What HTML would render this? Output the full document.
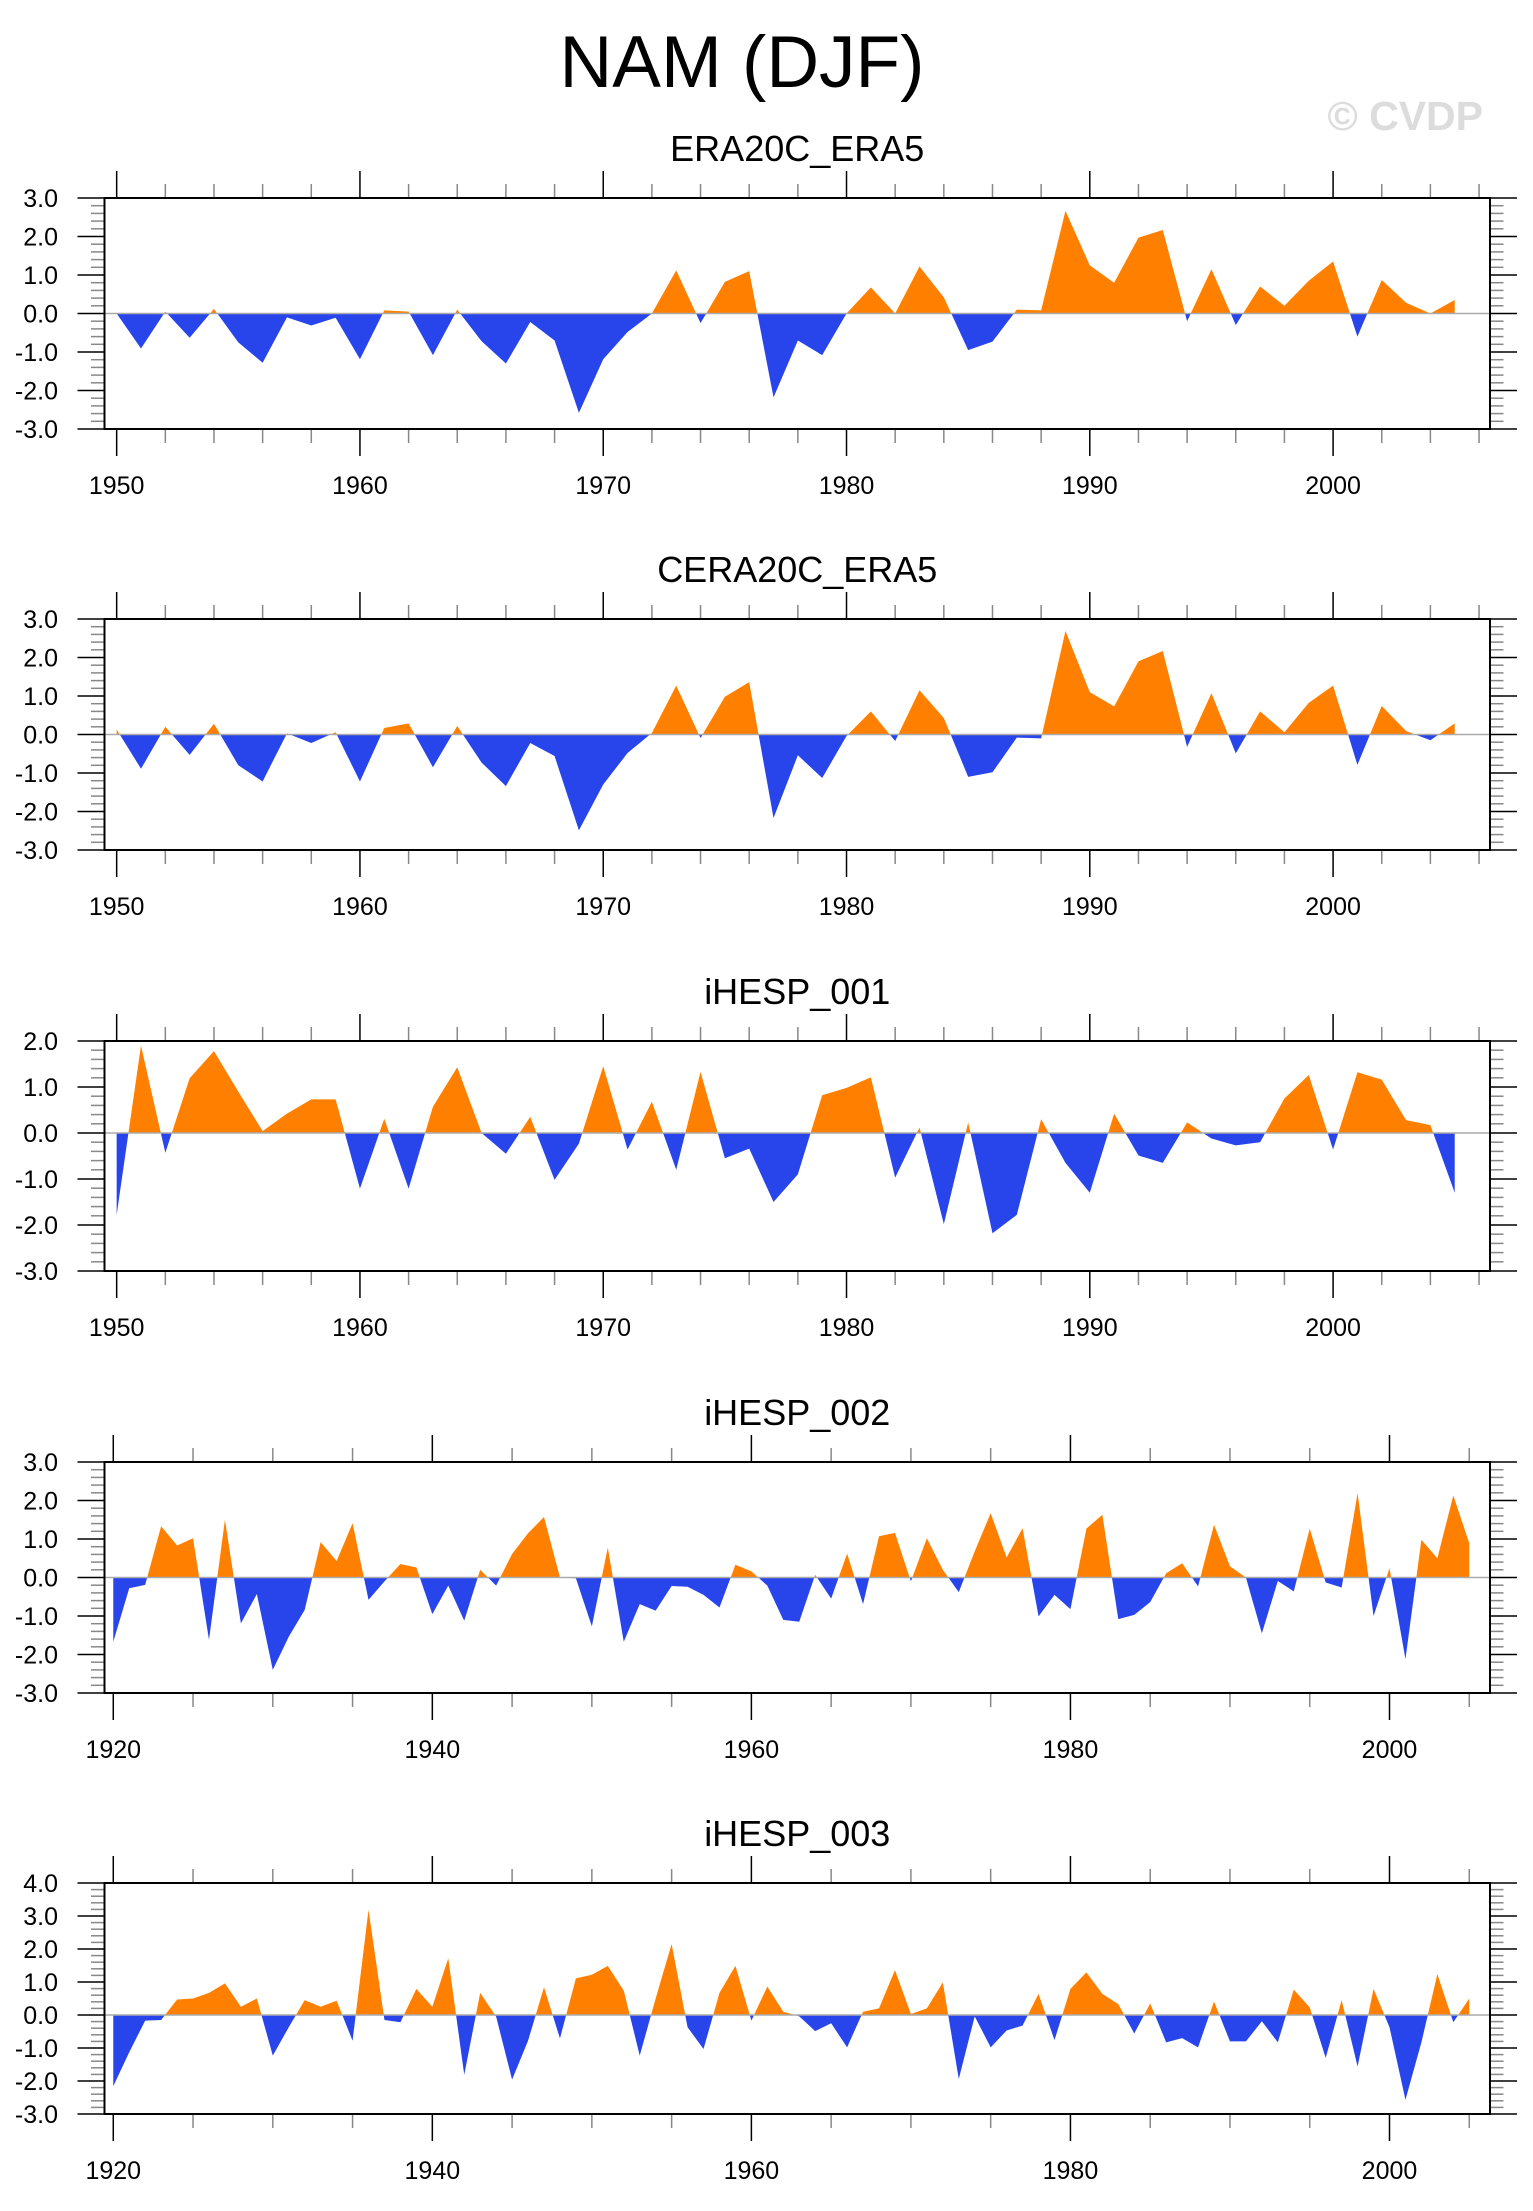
<!DOCTYPE html>
<html><head><meta charset="utf-8">
<style>
html,body{margin:0;padding:0;background:#fff;}
svg{display:block;font-family:"Liberation Sans",Arial,sans-serif;}
</style></head>
<body>
<svg id="chart" width="1533" height="2211" viewBox="0 0 1533 2211" xmlns="http://www.w3.org/2000/svg">
<text x="742" y="87" font-size="73" text-anchor="middle" fill="#000">NAM (DJF)</text>
<text x="1483" y="130" font-size="41" font-weight="bold" text-anchor="end" fill="#dcdcdc">© CVDP</text>
</svg>
<script>
// ---- data arrays ----
const yearsStart1 = 1950;
const yearsStart2 = 1920;
const era20cValues = [0.0,-0.91,0.05,-0.63,0.12,-0.75,-1.28,-0.1,-0.31,-0.11,-1.19,0.08,0.05,-1.08,0.1,-0.72,-1.3,-0.22,-0.7,-2.58,-1.19,-0.48,0.0,1.12,-0.25,0.82,1.1,-2.18,-0.7,-1.08,0.0,0.68,0.0,1.22,0.42,-0.95,-0.73,0.1,0.08,2.67,1.25,0.8,1.97,2.17,-0.2,1.15,-0.3,0.7,0.2,0.85,1.35,-0.6,0.87,0.28,0.0,0.35];
const cera20cValues = [0.13,-0.89,0.2,-0.53,0.28,-0.8,-1.22,0.03,-0.22,0.06,-1.22,0.17,0.29,-0.85,0.22,-0.73,-1.34,-0.22,-0.56,-2.49,-1.3,-0.48,0.04,1.27,-0.09,0.98,1.36,-2.17,-0.54,-1.13,-0.04,0.6,-0.17,1.15,0.43,-1.1,-0.98,-0.08,-0.1,2.69,1.1,0.73,1.9,2.17,-0.32,1.07,-0.49,0.6,0.06,0.82,1.27,-0.79,0.74,0.09,-0.15,0.29];
const ihesp001Values = [-1.78,1.9,-0.43,1.19,1.78,0.9,0.04,0.42,0.73,0.73,-1.21,0.31,-1.21,0.57,1.43,0.0,-0.45,0.35,-1.02,-0.23,1.45,-0.36,0.68,-0.8,1.33,-0.55,-0.34,-1.5,-0.9,0.82,0.98,1.21,-0.97,0.12,-1.98,0.23,-2.18,-1.78,0.3,-0.65,-1.3,0.42,-0.49,-0.65,0.23,-0.12,-0.27,-0.2,0.75,1.26,-0.36,1.32,1.16,0.28,0.17,-1.3];
const ihesp002Values = [-1.67,-0.28,-0.19,1.33,0.83,1.02,-1.62,1.5,-1.19,-0.43,-2.4,-1.54,-0.84,0.92,0.43,1.41,-0.58,-0.1,0.35,0.26,-0.95,-0.21,-1.12,0.2,-0.21,0.61,1.15,1.57,0.0,-0.02,-1.27,0.78,-1.67,-0.69,-0.86,-0.22,-0.24,-0.45,-0.78,0.33,0.16,-0.21,-1.1,-1.15,0.07,-0.55,0.62,-0.69,1.07,1.16,-0.1,1.02,0.2,-0.38,0.68,1.67,0.52,1.28,-1.01,-0.45,-0.82,1.27,1.63,-1.08,-0.97,-0.64,0.11,0.37,-0.23,1.37,0.29,0.0,-1.45,-0.09,-0.36,1.27,-0.13,-0.26,2.19,-1.0,0.24,-2.12,0.98,0.5,2.13,0.89];
const ihesp003Values = [-2.16,-1.13,-0.17,-0.15,0.47,0.5,0.67,0.96,0.25,0.5,-1.23,-0.37,0.45,0.25,0.43,-0.78,3.19,-0.15,-0.22,0.79,0.25,1.72,-1.81,0.67,-0.05,-1.96,-0.78,0.84,-0.71,1.11,1.22,1.49,0.74,-1.23,0.5,2.15,-0.37,-1.03,0.67,1.49,-0.17,0.86,0.1,-0.04,-0.49,-0.25,-0.98,0.1,0.2,1.36,0.03,0.2,0.99,-1.94,-0.04,-0.98,-0.47,-0.32,0.64,-0.76,0.79,1.29,0.64,0.33,-0.56,0.35,-0.83,-0.7,-0.98,0.41,-0.8,-0.8,-0.19,-0.83,0.77,0.23,-1.3,0.45,-1.56,0.79,-0.37,-2.57,-0.83,1.24,-0.22,0.5];
const panelTitles = ["ERA20C_ERA5","CERA20C_ERA5","iHESP_001","iHESP_002","iHESP_003"];
const yTickLabels3 = ["3.0","2.0","1.0","0.0","-1.0","-2.0","-3.0"];
const yTickLabels2 = ["2.0","1.0","0.0","-1.0","-2.0","-3.0"];
const yTickLabels4 = ["4.0","3.0","2.0","1.0","0.0","-1.0","-2.0","-3.0"];
const xTickLabelsA = ["1950","1960","1970","1980","1990","2000"];
const xTickLabelsB = ["1920","1940","1960","1980","2000"];

const NS = "http://www.w3.org/2000/svg";
const svg = document.getElementById('chart');
function mk(tag, attrs, parent){
  const e = document.createElementNS(NS, tag);
  for (const k in attrs) e.setAttribute(k, attrs[k]);
  (parent||svg).appendChild(e);
  return e;
}
const L = 104.5, R = 1490;
const panels = [
  {vals: era20cValues, start: yearsStart1, xmin: 1949.5, xmax: 2006.45, top: 198, bot: 429, ymax: 3, ymin: -3, ylabels: yTickLabels3, xlabels: xTickLabelsA, major: 10, minor: 2},
  {vals: cera20cValues, start: yearsStart1, xmin: 1949.5, xmax: 2006.45, top: 619, bot: 850, ymax: 3, ymin: -3, ylabels: yTickLabels3, xlabels: xTickLabelsA, major: 10, minor: 2},
  {vals: ihesp001Values, start: yearsStart1, xmin: 1949.5, xmax: 2006.45, top: 1041, bot: 1271, ymax: 2, ymin: -3, ylabels: yTickLabels2, xlabels: xTickLabelsA, major: 10, minor: 2},
  {vals: ihesp002Values, start: yearsStart2, xmin: 1919.45, xmax: 2006.3, top: 1462, bot: 1693, ymax: 3, ymin: -3, ylabels: yTickLabels3, xlabels: xTickLabelsB, major: 20, minor: 5},
  {vals: ihesp003Values, start: yearsStart2, xmin: 1919.45, xmax: 2006.3, top: 1883, bot: 2114, ymax: 4, ymin: -3, ylabels: yTickLabels4, xlabels: xTickLabelsB, major: 20, minor: 5}
];

panels.forEach((p, i) => {
  const g = mk('g', {});
  
  
  const xs = yr => L + (yr - p.xmin) / (p.xmax - p.xmin) * (R - L);
  const ys = v => p.top + (p.ymax - v) / (p.ymax - p.ymin) * (p.bot - p.top);
  const y0 = ys(0);

  const t = mk('text', {x: (L+R)/2, y: p.top - 37, 'font-size': 36, 'text-anchor': 'middle', fill: '#000'}, g);
  t.textContent = panelTitles[i];
  
  

  // clip paths
  const defs = mk('defs', {}, g);
  const cpA = mk('clipPath', {id: 'ca'+i}, defs);
  mk('rect', {x: L, y: p.top, width: R-L, height: y0 - p.top}, cpA);
  const cpB = mk('clipPath', {id: 'cb'+i}, defs);
  mk('rect', {x: L, y: y0, width: R-L, height: p.bot - y0}, cpB);

  let d = '';
  p.vals.forEach((v, k) => { d += (k ? 'L' : 'M') + xs(p.start + k).toFixed(2) + ' ' + ys(v).toFixed(2) + ' '; });
  const xe = xs(p.start + p.vals.length - 1), xb = xs(p.start);
  const area = d + 'L' + xe.toFixed(2) + ' ' + y0.toFixed(2) + ' L' + xb.toFixed(2) + ' ' + y0.toFixed(2) + ' Z';
  const pos = mk('path', {d: area, fill: '#FF8000', 'clip-path': 'url(#ca'+i+')'}, g);
  
  
  const neg = mk('path', {d: area, fill: '#2845EC', 'clip-path': 'url(#cb'+i+')'}, g);
  
  
  const zl = mk('line', {x1: L, x2: R, y1: y0, y2: y0, stroke: '#aaa', 'stroke-width': 1.5}, g);
  
  

  // y ticks
  for (let v = p.ymin; v <= p.ymax + 1e-6; v += 0.2) {
    const vr = Math.round(v * 10) / 10;
    const isMaj = Math.abs(vr - Math.round(vr)) < 1e-6;
    const y = ys(vr);
    const len = isMaj ? 27 : 13.5;
    const col = isMaj ? '#000' : '#888';
    mk('line', {x1: L - len, x2: L, y1: y, y2: y, stroke: col, 'stroke-width': 1.5}, g);
    mk('line', {x1: R, x2: R + len, y1: y, y2: y, stroke: col, 'stroke-width': 1.5}, g);
  }
  const yAxis = mk('g', {}, g);
  
  
  p.ylabels.forEach(lbl => {
    const tt = mk('text', {x: 58, y: ys(parseFloat(lbl)) + 9, 'font-size': 25, 'text-anchor': 'end', fill: '#000'}, yAxis);
    tt.textContent = lbl;
    
    
  });
  // x ticks
  const firstTick = Math.ceil(p.xmin / p.minor) * p.minor;
  for (let yr = firstTick; yr <= p.xmax; yr += p.minor) {
    const x = xs(yr);
    const isMaj = (yr % p.major) === 0;
    const len = isMaj ? 27 : 14;
    const col = isMaj ? '#000' : '#888';
    mk('line', {x1: x, x2: x, y1: p.top - len, y2: p.top, stroke: col, 'stroke-width': 1.5}, g);
    mk('line', {x1: x, x2: x, y1: p.bot, y2: p.bot + len, stroke: col, 'stroke-width': 1.5}, g);
  }
  const xAxis = mk('g', {}, g);
  
  
  p.xlabels.forEach(lbl => {
    const tt = mk('text', {x: xs(parseFloat(lbl)), y: p.bot + 65, 'font-size': 25, 'text-anchor': 'middle', fill: '#000'}, xAxis);
    tt.textContent = lbl;
    
    
  });
  const fr = mk('rect', {x: L, y: p.top, width: R - L, height: p.bot - p.top, fill: 'none', stroke: '#000', 'stroke-width': 2}, g);
  
  
});
</script>
</body></html>
